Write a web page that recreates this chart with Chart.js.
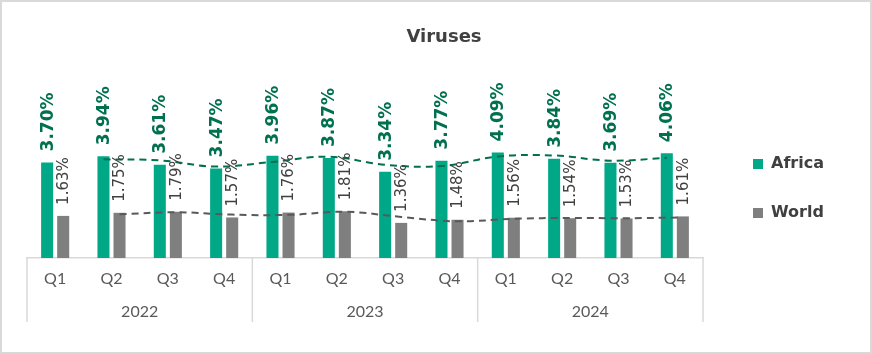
<!DOCTYPE html>
<html>
<head>
<meta charset="utf-8">
<script src="https://cdn.jsdelivr.net/npm/chart.js@4.4.1/dist/chart.umd.min.js"></script>
<style>
  html, body { margin: 0; padding: 0; background: #fff; }
  canvas { display: block; }
</style>
</head>
<body>
<canvas id="chart" width="872" height="354"></canvas>
<script>
const chartTitle = 'Viruses';
const quarters = ['Q1', 'Q2', 'Q3', 'Q4', 'Q1', 'Q2', 'Q3', 'Q4', 'Q1', 'Q2', 'Q3', 'Q4'];
const years = ['2022', '2023', '2024'];
const africa = [3.70, 3.94, 3.61, 3.47, 3.96, 3.87, 3.34, 3.77, 4.09, 3.84, 3.69, 4.06];
const world = [1.63, 1.75, 1.79, 1.57, 1.76, 1.81, 1.36, 1.48, 1.56, 1.54, 1.53, 1.61];
// dashed trend lines (first quarter has none)
const africaTrend = [null, 3.82, 3.78, 3.54, 3.72, 3.92, 3.61, 3.56, 3.93, 3.97, 3.77, 3.88];
const worldTrend = [null, 1.69, 1.77, 1.68, 1.67, 1.79, 1.59, 1.42, 1.52, 1.55, 1.54, 1.57];

const GREEN = '#00A887';
const DARK_GREEN = '#00704F';
const GREY = '#7F7F7F';
const TEXT = '#404040';
const AXIS = '#595959';
const LINE = '#D9D9D9';

// the two bars of a quarter sit this far (in category units) either side of its centre
const shift = 0.1425;

function points(values, dx) {
  return values
    .map((v, i) => (v === null ? null : { x: i + dx, y: v }))
    .filter(p => p !== null);
}

const valueLabels = {
  id: 'valueLabels',
  afterDatasetsDraw(chart) {
    const ctx = chart.ctx;
    const series = [
      { values: africa, font: 'bold 17px "DejaVu Sans"', color: DARK_GREEN },
      { values: world, font: '15px "DejaVu Sans"', color: TEXT }
    ];
    series.forEach((st, di) => {
      chart.getDatasetMeta(di).data.forEach((bar, i) => {
        ctx.save();
        ctx.translate(bar.x + 1, bar.y - 11);
        ctx.rotate(-Math.PI / 2);
        ctx.font = st.font;
        ctx.fillStyle = st.color;
        ctx.textAlign = 'left';
        ctx.textBaseline = 'middle';
        ctx.fillText(st.values[i].toFixed(2) + '%', 0, 0);
        ctx.restore();
      });
    });
  }
};

const yearAxis = {
  id: 'yearAxis',
  afterDraw(chart) {
    const ctx = chart.ctx;
    const x = chart.scales.x;
    const half = (x.getPixelForValue(1) - x.getPixelForValue(0)) / 2;
    const per = quarters.length / years.length;
    const top = chart.chartArea.bottom;
    ctx.save();
    ctx.strokeStyle = LINE;
    ctx.lineWidth = 1.5;
    for (let g = 0; g <= years.length; g++) {
      const px = g < years.length
        ? x.getPixelForValue(g * per) - half
        : x.getPixelForValue(quarters.length - 1) + half;
      ctx.beginPath();
      ctx.moveTo(px, top);
      ctx.lineTo(px, top + 64);
      ctx.stroke();
    }
    ctx.fillStyle = AXIS;
    ctx.font = '16px Lato';
    ctx.textAlign = 'center';
    ctx.textBaseline = 'middle';
    years.forEach((yr, g) => {
      const cx = (x.getPixelForValue(g * per) + x.getPixelForValue(g * per + per - 1)) / 2;
      ctx.fillText(yr, cx, top + 54);
    });

    // title and frame
    ctx.fillStyle = TEXT;
    ctx.font = 'bold 18px "DejaVu Sans"';
    ctx.fillText(chartTitle, 444, 37);
    ctx.strokeStyle = LINE;
    ctx.lineWidth = 2;
    ctx.strokeRect(1, 1, chart.width - 2, chart.height - 2);
    ctx.restore();
  }
};

new Chart(document.getElementById('chart'), {
  type: 'bar',
  data: {
    labels: quarters,
    datasets: [
      { label: 'Africa', data: points(africa, -shift), xAxisID: 'xl', backgroundColor: GREEN,
        grouped: false, categoryPercentage: 1, barPercentage: 0.75, order: 2 },
      { label: 'World', data: points(world, shift), xAxisID: 'xl', backgroundColor: GREY,
        grouped: false, categoryPercentage: 1, barPercentage: 0.75, order: 2 },
      { type: 'line', label: 'Africa trend', data: points(africaTrend, -shift), xAxisID: 'xl',
        borderColor: DARK_GREEN, borderWidth: 2, borderDash: [7, 5], pointRadius: 0,
        tension: 0.4, fill: false, order: 1 },
      { type: 'line', label: 'World trend', data: points(worldTrend, shift), xAxisID: 'xl',
        borderColor: AXIS, borderWidth: 2, borderDash: [7, 5], pointRadius: 0,
        tension: 0.4, fill: false, order: 1 }
    ]
  },
  options: {
    responsive: false,
    animation: false,
    layout: { padding: { left: 27, right: 38, top: 23, bottom: 0 } },
    plugins: {
      title: { display: false },
      tooltip: { enabled: false },
      legend: {
        position: 'right',
        align: 'center',
        labels: {
          boxWidth: 10,
          boxHeight: 10,
          padding: 33,
          color: TEXT,
          font: { family: 'DejaVu Sans', size: 16, weight: 'bold' },
          filter: item => item.datasetIndex < 2
        }
      }
    },
    scales: {
      x: {
        type: 'category',
        offset: true,
        grid: { display: false, drawTicks: false },
        border: { color: LINE, width: 1.5 },
        ticks: { color: AXIS, font: { family: 'Lato', size: 16 }, padding: 11, maxRotation: 0, autoSkip: false },
        afterFit: s => { s.height = 96; }
      },
      xl: { type: 'linear', display: false, offset: false, min: -0.5, max: quarters.length - 0.5 },
      y: {
        position: 'right',
        min: 0,
        max: 9.1,
        grid: { display: false },
        border: { display: false },
        ticks: { display: false },
        afterFit: s => { s.width = 17; }
      }
    }
  },
  plugins: [valueLabels, yearAxis]
});
</script>
</body>
</html>
